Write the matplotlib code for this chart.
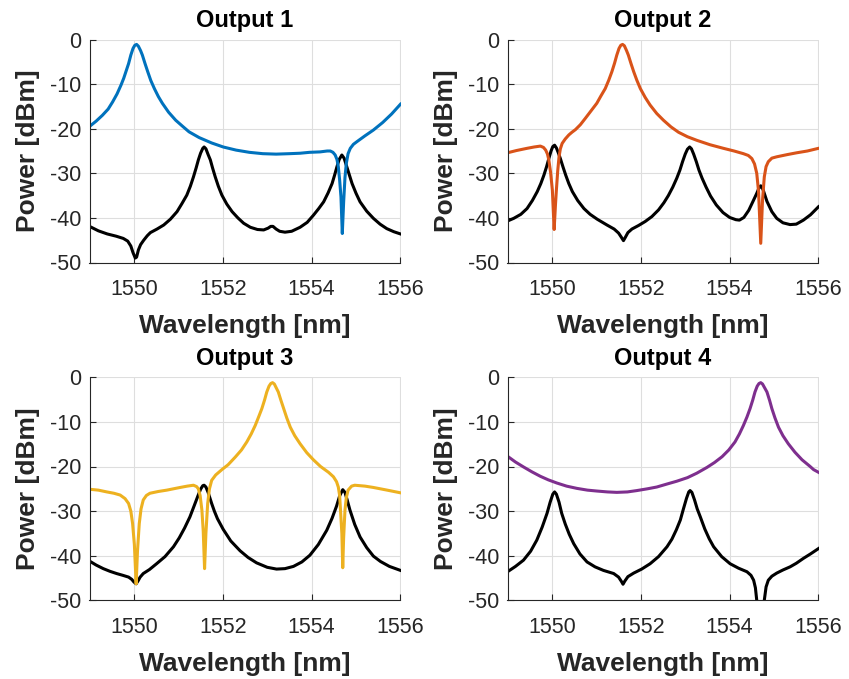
import matplotlib
matplotlib.use("Agg")
import matplotlib.pyplot as plt

plt.rcParams['font.family'] = ['Liberation Sans', 'DejaVu Sans']
plt.rcParams['axes.unicode_minus'] = False

# Output 1 (blue) and the summed reference trace (black)
out1_x = [1549.0, 1549.15, 1549.29, 1549.42, 1549.52, 1549.62, 1549.71, 1549.77,
          1549.82, 1549.88, 1549.93, 1549.98, 1550.02, 1550.06, 1550.10, 1550.15,
          1550.19, 1550.25, 1550.31, 1550.38, 1550.46, 1550.55, 1550.64, 1550.78,
          1550.94, 1551.10, 1551.24, 1551.47, 1551.75, 1552.01, 1552.30, 1552.60,
          1552.90, 1553.20, 1553.50, 1553.74, 1553.95, 1554.19, 1554.35, 1554.42,
          1554.48, 1554.53, 1554.57, 1554.60, 1554.63, 1554.66, 1554.69, 1554.72,
          1554.75, 1554.78, 1554.82, 1554.87, 1554.94, 1555.02, 1555.20, 1555.39,
          1555.60, 1555.80, 1556.0]
out1_y = [-19.5, -18.3, -17.0, -15.6, -14.0, -12.2, -10.2, -8.7,
          -7.2, -5.4, -3.5, -2.0, -1.3, -1.1, -1.5, -2.5,
          -3.5, -5.4, -7.2, -9.2, -11.0, -12.8, -14.3, -16.3,
          -18.1, -19.5, -20.7, -22.0, -23.2, -24.1, -24.8, -25.3,
          -25.6, -25.7, -25.6, -25.5, -25.3, -25.2, -25.0, -25.0,
          -25.3, -25.9, -26.9, -28.5, -31.5, -35.3, -43.5, -36.5,
          -31.0, -27.8, -25.6, -24.4, -23.5, -22.9, -21.6, -20.3,
          -18.6, -16.7, -14.5]
ref1_x = [1549.0, 1549.2, 1549.4, 1549.6, 1549.76, 1549.86, 1549.93, 1549.98,
          1550.03, 1550.06, 1550.10, 1550.15, 1550.22, 1550.30, 1550.37, 1550.52,
          1550.67, 1550.82, 1550.97, 1551.08, 1551.19, 1551.27, 1551.34, 1551.40,
          1551.45, 1551.50, 1551.55, 1551.58, 1551.62, 1551.67, 1551.72, 1551.77,
          1551.83, 1551.90, 1551.98, 1552.09, 1552.21, 1552.34, 1552.47, 1552.62,
          1552.78, 1552.92, 1553.02, 1553.08, 1553.13, 1553.20, 1553.28, 1553.40,
          1553.55, 1553.74, 1553.90, 1554.04, 1554.16, 1554.27, 1554.37, 1554.46,
          1554.52, 1554.57, 1554.62, 1554.68, 1554.73, 1554.79, 1554.85, 1554.91,
          1555.00, 1555.09, 1555.24, 1555.39, 1555.54, 1555.69, 1555.85, 1556.0]
ref1_y = [-41.9, -42.9, -43.6, -44.1, -44.6, -45.2, -46.3, -47.8,
          -49.0, -48.8, -47.2, -46.0, -45.0, -44.0, -43.3, -42.5,
          -41.6, -40.3, -38.6, -36.8, -34.9, -32.9, -30.8, -28.8,
          -27.0, -25.5, -24.4, -24.1, -24.5, -25.8, -27.0, -28.8,
          -30.8, -32.9, -34.9, -36.9, -38.6, -40.0, -41.2, -42.1,
          -42.6, -42.7, -42.3, -41.9, -41.9, -42.5, -43.0, -43.2,
          -43.0, -42.1, -41.0, -39.4, -37.9, -36.4, -34.4, -32.3,
          -30.3, -28.5, -26.9, -25.9, -26.6, -28.5, -30.4, -32.3,
          -34.5, -36.4, -38.5, -40.1, -41.4, -42.4, -43.1, -43.6]

# Output 2 (orange)
out2_x = [1549.0, 1549.2, 1549.44, 1549.6, 1549.74, 1549.81, 1549.86, 1549.90,
          1549.93, 1549.97, 1550.01, 1550.05, 1550.08, 1550.10, 1550.13, 1550.16,
          1550.19, 1550.23, 1550.30, 1550.38, 1550.45, 1550.53, 1550.64, 1550.75,
          1550.88, 1551.01, 1551.10, 1551.20, 1551.28, 1551.35, 1551.41, 1551.46,
          1551.51, 1551.55, 1551.59, 1551.63, 1551.68, 1551.72, 1551.78, 1551.84,
          1551.91, 1551.99, 1552.10, 1552.21, 1552.36, 1552.51, 1552.68, 1552.85,
          1553.05, 1553.26, 1553.56, 1553.86, 1554.10, 1554.31, 1554.42, 1554.50,
          1554.56, 1554.61, 1554.65, 1554.70, 1554.74, 1554.78, 1554.82, 1554.87,
          1554.95, 1555.06, 1555.30, 1555.51, 1555.75, 1556.0]
out2_y = [-25.4, -24.9, -24.4, -24.1, -23.9, -24.2, -24.8, -25.7,
          -27.0, -29.8, -33.8, -42.6, -37.0, -33.8, -29.5, -26.3,
          -24.5, -23.3, -22.3, -21.4, -20.8, -20.2, -19.1, -17.7,
          -16.0, -14.3, -12.7, -11.0, -9.1, -7.2, -5.3, -3.5,
          -2.0, -1.3, -1.1, -1.4, -2.5, -3.5, -5.4, -7.2,
          -9.1, -11.0, -13.0, -14.7, -16.6, -18.1, -19.6, -20.8,
          -21.8, -22.6, -23.6, -24.4, -25.0, -25.6, -26.0, -26.7,
          -27.9, -30.0, -34.0, -45.7, -36.0, -30.8, -28.5, -27.4,
          -26.6, -26.3, -25.8, -25.4, -25.0, -24.4]
ref2_x = [1549.0, 1549.14, 1549.30, 1549.44, 1549.56, 1549.67, 1549.75, 1549.82,
          1549.88, 1549.93, 1549.98, 1550.02, 1550.06, 1550.10, 1550.14, 1550.19,
          1550.25, 1550.31, 1550.38, 1550.46, 1550.58, 1550.72, 1550.86, 1551.02,
          1551.24, 1551.40, 1551.50, 1551.56, 1551.61, 1551.65, 1551.71, 1551.80,
          1551.95, 1552.10, 1552.25, 1552.40, 1552.52, 1552.62, 1552.72, 1552.81,
          1552.88, 1552.94, 1553.00, 1553.05, 1553.10, 1553.14, 1553.19, 1553.25,
          1553.31, 1553.38, 1553.47, 1553.57, 1553.70, 1553.85, 1554.00, 1554.14,
          1554.22, 1554.32, 1554.43, 1554.53, 1554.61, 1554.66, 1554.70, 1554.75,
          1554.84, 1554.95, 1555.06, 1555.20, 1555.36, 1555.50, 1555.66, 1555.82,
          1556.0]
ref2_y = [-40.7, -40.1, -39.2, -37.9, -36.1, -34.1, -32.3, -30.4,
          -28.5, -26.7, -25.0, -24.0, -23.7, -24.3, -25.3, -26.7,
          -28.6, -30.4, -32.3, -34.1, -36.1, -37.9, -39.2, -40.3,
          -41.6, -42.5, -43.4, -44.3, -45.1, -44.4, -43.3, -42.5,
          -41.7, -40.8, -39.7, -38.2, -36.6, -35.0, -33.1, -31.1,
          -29.3, -27.4, -25.7, -24.6, -24.1, -24.5, -25.7, -27.4,
          -29.3, -31.1, -33.1, -35.1, -37.1, -38.8, -39.9, -40.4,
          -40.5, -39.9, -38.3, -36.2, -34.5, -33.3, -32.8, -33.6,
          -36.3, -38.6, -40.1, -41.1, -41.5, -41.4, -40.5, -39.3,
          -37.5]

# Output 3 (yellow)
out3_x = [1549.0, 1549.2, 1549.39, 1549.55, 1549.69, 1549.80, 1549.88, 1549.93,
          1549.97, 1550.01, 1550.05, 1550.08, 1550.12, 1550.16, 1550.21, 1550.28,
          1550.36, 1550.55, 1550.74, 1551.04, 1551.20, 1551.34, 1551.41, 1551.45,
          1551.49, 1551.53, 1551.56, 1551.59, 1551.62, 1551.66, 1551.70, 1551.75,
          1551.84, 1551.98, 1552.12, 1552.28, 1552.42, 1552.54, 1552.64, 1552.73,
          1552.81, 1552.88, 1552.94, 1552.99, 1553.04, 1553.08, 1553.12, 1553.16,
          1553.21, 1553.25, 1553.31, 1553.37, 1553.44, 1553.52, 1553.62, 1553.74,
          1553.89, 1554.04, 1554.20, 1554.38, 1554.49, 1554.56, 1554.60, 1554.63,
          1554.65, 1554.68, 1554.70, 1554.72, 1554.75, 1554.78, 1554.82, 1554.90,
          1554.97, 1555.20, 1555.39, 1555.70, 1556.0]
out3_y = [-25.1, -25.3, -25.7, -26.0, -26.4, -27.2, -28.3, -30.0,
          -32.8, -37.5, -46.3, -39.0, -32.8, -29.5, -27.5, -26.5,
          -26.0, -25.6, -25.3, -24.7, -24.4, -24.2, -24.5, -25.0,
          -26.5, -29.8, -34.5, -42.9, -35.0, -28.3, -25.0, -23.1,
          -21.9, -20.7, -19.6, -17.9, -16.3, -14.5, -12.7, -10.8,
          -8.8, -7.0, -5.1, -3.3, -2.0, -1.4, -1.2, -1.5,
          -2.5, -3.3, -5.2, -7.0, -9.1, -11.2, -13.1, -14.9,
          -16.9, -18.5, -20.0, -21.3, -22.3, -23.4, -24.6, -26.5,
          -29.8, -35.0, -42.7, -36.0, -29.8, -27.0, -25.3, -24.4,
          -24.2, -24.4, -24.7, -25.3, -25.9]
ref3_x = [1549.0, 1549.15, 1549.31, 1549.46, 1549.61, 1549.75, 1549.88, 1549.95,
          1550.00, 1550.05, 1550.09, 1550.14, 1550.21, 1550.35, 1550.51, 1550.70,
          1550.89, 1551.02, 1551.14, 1551.26, 1551.36, 1551.44, 1551.50, 1551.55,
          1551.58, 1551.62, 1551.67, 1551.75, 1551.81, 1551.88, 1552.01, 1552.18,
          1552.39, 1552.57, 1552.76, 1553.00, 1553.21, 1553.40, 1553.59, 1553.78,
          1553.96, 1554.15, 1554.34, 1554.46, 1554.56, 1554.63, 1554.70, 1554.75,
          1554.80, 1554.86, 1554.97, 1555.09, 1555.24, 1555.39, 1555.55, 1555.75,
          1556.0]
ref3_y = [-41.2, -42.1, -42.9, -43.5, -44.0, -44.4, -44.8, -45.3,
          -45.9, -46.3, -45.7, -44.8, -44.0, -43.1, -41.8, -40.2,
          -38.0, -36.0, -33.8, -31.3, -28.7, -26.6, -25.1, -24.3,
          -24.2, -24.6, -25.8, -28.3, -30.0, -31.7, -34.1, -36.7,
          -38.9, -40.4, -41.6, -42.6, -43.0, -42.9, -42.4, -41.4,
          -39.9, -37.5, -34.3, -31.6, -28.9, -26.6, -25.2, -25.8,
          -27.5, -29.7, -33.0, -35.8, -38.2, -40.1, -41.3, -42.4,
          -43.3]

# Output 4 (purple)
out4_x = [1549.0, 1549.18, 1549.36, 1549.55, 1549.74, 1549.92, 1550.11, 1550.33,
          1550.56, 1550.80, 1551.01, 1551.25, 1551.46, 1551.70, 1551.91, 1552.15,
          1552.36, 1552.60, 1552.81, 1553.05, 1553.26, 1553.49, 1553.66, 1553.83,
          1553.98, 1554.12, 1554.22, 1554.31, 1554.39, 1554.46, 1554.52, 1554.57,
          1554.62, 1554.66, 1554.70, 1554.74, 1554.79, 1554.84, 1554.90, 1554.95,
          1555.02, 1555.10, 1555.20, 1555.32, 1555.47, 1555.63, 1555.80, 1555.89,
          1556.0]
out4_y = [-17.7, -19.0, -20.1, -21.2, -22.2, -23.0, -23.7, -24.4,
          -24.9, -25.3, -25.5, -25.7, -25.8, -25.7, -25.4, -25.0,
          -24.6, -23.9, -23.3, -22.5, -21.5, -20.2, -19.1, -17.8,
          -16.3, -14.5, -12.7, -10.8, -8.9, -7.0, -5.1, -3.3,
          -2.0, -1.4, -1.2, -1.5, -2.4, -3.3, -5.2, -7.0,
          -9.1, -11.2, -13.1, -14.9, -16.8, -18.5, -19.9, -20.7,
          -21.3]
ref4_x = [1549.0, 1549.18, 1549.36, 1549.52, 1549.66, 1549.78, 1549.89, 1549.96,
          1550.02, 1550.06, 1550.10, 1550.16, 1550.22, 1550.30, 1550.39, 1550.49,
          1550.63, 1550.79, 1550.97, 1551.16, 1551.39, 1551.50, 1551.56, 1551.60,
          1551.64, 1551.71, 1551.84, 1552.02, 1552.21, 1552.40, 1552.59, 1552.70,
          1552.80, 1552.89, 1552.96, 1553.03, 1553.08, 1553.11, 1553.15, 1553.21,
          1553.27, 1553.34, 1553.44, 1553.54, 1553.64, 1553.82, 1554.01, 1554.20,
          1554.39, 1554.48, 1554.54, 1554.58, 1554.61, 1554.66, 1554.70, 1554.74,
          1554.78, 1554.82, 1554.87, 1554.95, 1555.06, 1555.20, 1555.36, 1555.50,
          1555.66, 1555.82, 1556.0]
ref4_y = [-43.6, -42.4, -41.0, -39.0, -36.5, -33.6, -30.5, -28.0,
          -26.2, -25.7, -26.2, -28.0, -30.5, -32.9, -35.2, -37.3,
          -39.6, -41.4, -42.5, -43.3, -44.0, -44.8, -45.7, -46.4,
          -45.7, -44.7, -43.9, -43.0, -41.8, -40.2, -38.0, -36.3,
          -34.2, -32.0, -29.5, -27.1, -25.7, -25.4, -25.8, -27.5,
          -29.5, -31.3, -34.0, -36.2, -38.0, -40.2, -41.8, -42.8,
          -43.6, -44.4, -45.5, -47.2, -50.0, -55.0, -58.0, -55.0,
          -50.0, -47.0, -45.5, -44.6, -43.9, -43.2, -42.5, -41.7,
          -40.6, -39.6, -38.4]

titles = ["Output 1", "Output 2", "Output 3", "Output 4"]
colors = ["#0072BD", "#D95319", "#EDB120", "#7E2F8E"]
outputs = [(out1_x, out1_y), (out2_x, out2_y), (out3_x, out3_y), (out4_x, out4_y)]
refs = [(ref1_x, ref1_y), (ref2_x, ref2_y), (ref3_x, ref3_y), (ref4_x, ref4_y)]

W, H = 849, 679
positions = [(89.5, 39.5), (507.5, 39.5), (89.5, 377.3), (507.5, 377.3)]
ax_w, ax_h = 311, 223

fig = plt.figure(figsize=(W / 100, H / 100), dpi=100)
axis_gray = "#262626"

for i in range(4):
    left, top = positions[i]
    ax = fig.add_axes([left / W, 1 - (top + ax_h) / H, ax_w / W, ax_h / H])
    ax.plot(*refs[i], color="black", lw=2.2, solid_joinstyle="round")
    ax.plot(*outputs[i], color=colors[i], lw=2.2, solid_joinstyle="round")
    ax.set_xlim(1549, 1556)
    ax.set_ylim(-50, 0)
    ax.set_xticks([1550, 1552, 1554, 1556])
    ax.set_yticks([0, -10, -20, -30, -40, -50])
    ax.grid(True, color="#dedede", lw=0.8)
    ax.set_axisbelow(True)
    for side in ["top", "right"]:
        ax.spines[side].set_visible(False)
    for side in ["left", "bottom"]:
        ax.spines[side].set_color(axis_gray)
        ax.spines[side].set_linewidth(0.8)
    ax.tick_params(direction="in", length=4, width=0.8, colors=axis_gray,
                   labelsize=15.5)
    ax.tick_params(axis="x", pad=12)
    ax.tick_params(axis="y", pad=6)
    ax.set_title(titles[i], fontsize=17, fontweight="bold", pad=9)
    ax.set_xlabel("Wavelength [nm]", fontsize=19, fontweight="bold",
                  color=axis_gray, labelpad=10)
    ax.set_ylabel("Power [dBm]", fontsize=19, fontweight="bold",
                  color=axis_gray, labelpad=7)

fig.savefig("out.png", dpi=100)
